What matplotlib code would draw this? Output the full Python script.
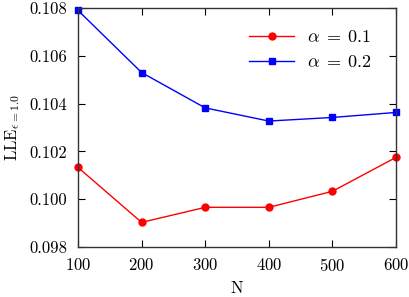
import matplotlib
matplotlib.use('agg')
from matplotlib import pyplot as plt

N = [100, 200, 300, 400, 500, 600]
lle_a01 = [0.10133, 0.09903, 0.09966, 0.09966, 0.10033, 0.10175]
lle_a02 = [0.10790, 0.10530, 0.10382, 0.10327, 0.10342, 0.10363]

plt.rcParams['font.family'] = 'serif'
plt.rcParams['font.serif'] = ['cmr10']
plt.rcParams['mathtext.fontset'] = 'cm'
plt.rcParams['axes.formatter.use_mathtext'] = True
plt.rcParams['font.size'] = 12

fig = plt.figure(figsize=(4.09, 2.97), dpi=100)
ax = fig.add_axes([78 / 409, 50 / 297, 318 / 409, 239 / 297])

ax.plot(N, lle_a01, '-o', color='red', markersize=5, linewidth=1, label=r'$\alpha\;=\;0.1$', clip_on=False)
ax.plot(N, lle_a02, '-s', color='blue', markersize=4.5, linewidth=1, label=r'$\alpha\;=\;0.2$', clip_on=False)

ax.set_xlim(100, 600)
ax.set_ylim(0.098, 0.108)
ax.set_xticks(N)
ax.set_yticks([0.098, 0.100, 0.102, 0.104, 0.106, 0.108])
ax.set_yticklabels(['0.098', '0.100', '0.102', '0.104', '0.106', '0.108'])
ax.tick_params(direction='in', top=True, right=True, length=5)
ax.tick_params(axis='y', pad=8)
ax.tick_params(axis='x', pad=7)
for s in ax.spines.values():
    s.set_linewidth(1)
    s.set_color('#333333')

ax.set_xlabel('N', labelpad=5)
ax.set_ylabel(r'LLE$_{\epsilon=1.0}$', labelpad=5)
ax.legend(loc='upper right', frameon=False, handlelength=2.5, handletextpad=0.7,
          fontsize=13, bbox_to_anchor=(0.975, 0.98))

plt.savefig('out.png', dpi=100)
